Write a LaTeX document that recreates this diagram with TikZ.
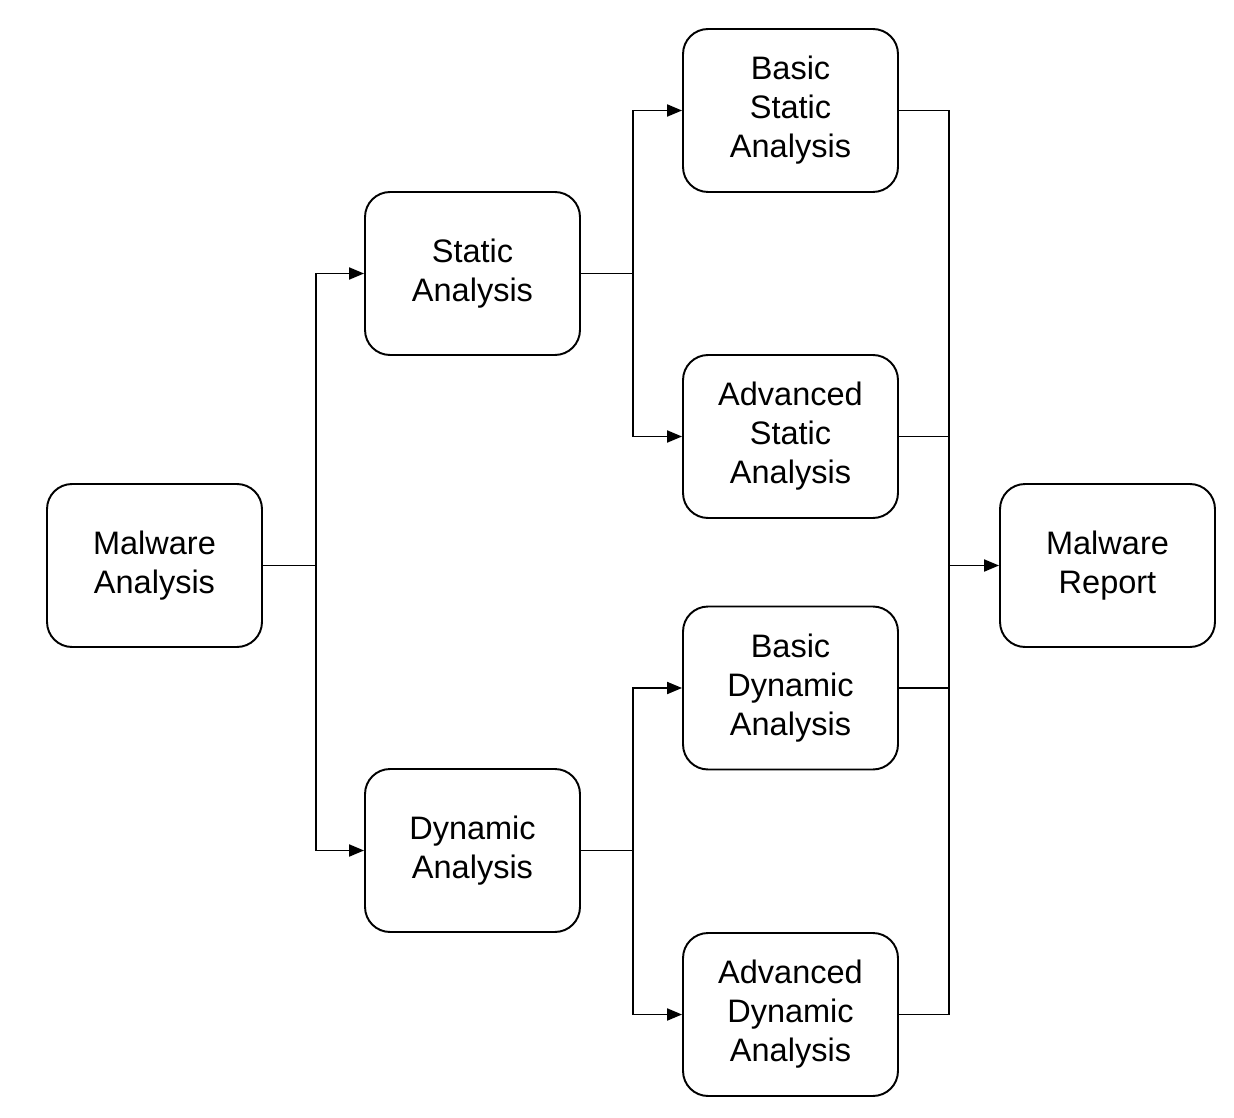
\documentclass[tikz,border=0pt]{standalone}
\usepackage{fontspec}
\setmainfont{Liberation Sans}
\usetikzlibrary{arrows.meta}
\tikzstyle{block} = [align=center,draw=black,rectangle,rounded corners=0.5cm,line width=1.1pt,minimum width=4.3cm,minimum height=3.26cm,text centered,font=\fontsize{18.5}{22.2}\selectfont]
\tikzstyle{link} = [line width=1.1pt]
\tikzstyle{arr} = [link,-{Triangle[length=0.3cm,width=0.24cm]}]

\begin{document}
\begin{tikzpicture}[x=0.02cm,y=-0.02cm]
				\useasboundingbox (0,0) rectangle (1234,1118);
				\node (mal) [block] at (154.5,565.5) {Malware\\Analysis};
				\node (sta) [block] at (472.5,273.5) {Static\\Analysis};
				\node (dyn) [block] at (472.5,850.5) {Dynamic\\Analysis};
				\node (bsa) [block] at (790.5,110.5) {Basic\\Static\\Analysis};
				\node (asa) [block] at (790.5,436.5) {Advanced\\Static\\Analysis};
				\node (bda) [block] at (790.5,688) {Basic\\Dynamic\\Analysis};
				\node (ada) [block] at (790.5,1014.5) {Advanced\\Dynamic\\Analysis};
				\node (rep) [block] at (1107.5,565.5) {Malware\\Report};
				\coordinate (j_mal) at (316,565.5);
				\coordinate (j_sta) at (633,273.5);
				\coordinate (j_dyn) at (633,850.5);
				\coordinate (j_rep) at (949,565.5);
				\draw [link] (mal) -- (j_mal);
				\draw [arr] (j_mal) |- (sta);
				\draw [arr] (j_mal) |- (dyn);
				\draw [link] (sta) -- (j_sta);
				\draw [arr] (j_sta) |- (bsa);
				\draw [arr] (j_sta) |- (asa);
				\draw [link] (dyn) -- (j_dyn);
				\draw [arr] (j_dyn) |- (bda);
				\draw [arr] (j_dyn) |- (ada);
				\draw [link] (bsa) -| (j_rep);
				\draw [link] (asa) -| (j_rep);
				\draw [link] (bda) -| (j_rep);
				\draw [link] (ada) -| (j_rep);
				\draw [arr] (j_rep) -- (rep);
			\end{tikzpicture}
\end{document}
